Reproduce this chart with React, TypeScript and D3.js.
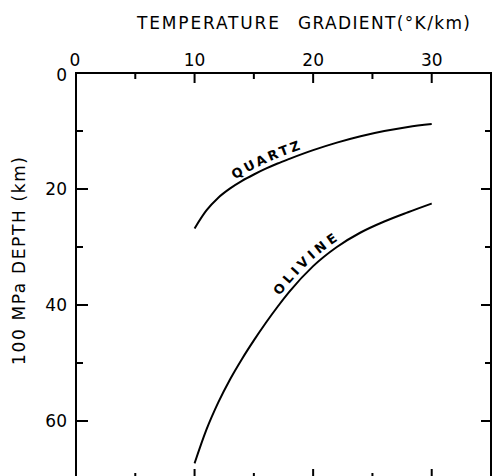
import React, { useEffect, useRef } from "react";
import * as d3 from "d3";

// temperature gradient (°K/km) sampled along both curves
const gradients = [10, 11, 12, 13, 14, 15, 16, 17, 18, 20, 22, 24, 26, 28, 30];
// depth (km) of the 100 MPa stress level
const quartzDepth = [26.8, 23.7, 21.5, 19.9, 18.6, 17.5, 16.5, 15.6, 14.8, 13.3, 12.0, 10.9, 10.0, 9.3, 8.8];
const olivineDepth = [67.3, 61.5, 56.8, 52.8, 49.3, 46.1, 43.1, 40.3, 37.7, 33.3, 30.0, 27.5, 25.6, 24.0, 22.5];

const xTickLabels = [0, 10, 20, 30];
const xMinorTicks = [5, 15, 25];
const yTickLabels = [0, 20, 40, 60];
const yMinorTicks = [10, 30, 50];

const FONT = "'DejaVu Sans', sans-serif";

type Pt = [number, number];

const App: React.FC = () => {
  const ref = useRef<SVGSVGElement>(null);

  useEffect(() => {
    if (!ref.current) return;
    const svg = d3.select(ref.current);
    svg.selectAll("*").remove();

    const x = d3.scaleLinear().domain([0, 35]).range([76, 491]);
    const y = d3.scaleLinear().domain([0, 70]).range([73, 479]);

    const g = svg.append("g");

    // frame
    g.append("rect")
      .attr("x", x(0))
      .attr("y", y(0))
      .attr("width", x(35) - x(0))
      .attr("height", y(70) - y(0))
      .attr("fill", "none")
      .attr("stroke", "#000")
      .attr("stroke-width", 2);

    const tick = (x1: number, y1: number, x2: number, y2: number) =>
      g.append("line")
        .attr("x1", x1).attr("y1", y1).attr("x2", x2).attr("y2", y2)
        .attr("stroke", "#000").attr("stroke-width", 2);

    // x ticks top + bottom, pointing inward
    xTickLabels.filter(v => v > 0).forEach(v => {
      tick(x(v), y(0), x(v), y(0) + 10);
      tick(x(v), y(70), x(v), y(70) - 10);
    });
    xMinorTicks.forEach(v => {
      tick(x(v), y(0), x(v), y(0) + 6);
      tick(x(v), y(70), x(v), y(70) - 6);
    });

    // y ticks left + right
    yTickLabels.filter(v => v > 0).forEach(v => {
      tick(x(0), y(v), x(0) + 12, y(v));
      tick(x(35), y(v), x(35) - 10, y(v));
    });
    yMinorTicks.forEach(v => {
      tick(x(0), y(v), x(0) + 7, y(v));
      tick(x(35), y(v), x(35) - 6, y(v));
    });

    // tick labels
    g.selectAll("text.xlab")
      .data(xTickLabels)
      .enter()
      .append("text")
      .attr("class", "xlab")
      .attr("x", (d: number) => (d === 0 ? x(d) - 1 : x(d)))
      .attr("y", 66)
      .attr("text-anchor", "middle")
      .style("font-family", FONT)
      .style("font-size", "17px")
      .text((d: number) => String(d));

    g.selectAll("text.ylab")
      .data(yTickLabels)
      .enter()
      .append("text")
      .attr("class", "ylab")
      .attr("x", 67)
      .attr("y", (d: number) => (d === 0 ? y(d) + 8 : y(d) + 6))
      .attr("text-anchor", "end")
      .style("font-family", FONT)
      .style("font-size", "17px")
      .text((d: number) => String(d));

    // axis titles
    g.append("text")
      .attr("x", 137)
      .attr("y", 29)
      .attr("textLength", 142)
      .attr("lengthAdjust", "spacing")
      .style("font-family", FONT)
      .style("font-size", "17px")
      .text("TEMPERATURE");

    g.append("text")
      .attr("x", 298)
      .attr("y", 29)
      .attr("textLength", 172)
      .attr("lengthAdjust", "spacing")
      .style("font-family", FONT)
      .style("font-size", "17px")
      .text("GRADIENT(°K/km)");

    g.append("text")
      .attr("transform", "translate(25,261) rotate(-90)")
      .attr("text-anchor", "middle")
      .attr("textLength", 208)
      .attr("lengthAdjust", "spacing")
      .style("font-family", FONT)
      .style("font-size", "17px")
      .text("100 MPa DEPTH (km)");

    const line = d3.line<Pt>()
      .x((d: Pt) => x(d[0]))
      .y((d: Pt) => y(d[1]))
      .curve(d3.curveMonotoneX);

    const curves = [
      { id: "quartz", name: "QUARTZ", depth: quartzDepth, labelX: 237, labelLen: 72 },
      { id: "olivine", name: "OLIVINE", depth: olivineDepth, labelX: 283, labelLen: 80 },
    ];

    curves.forEach(c => {
      const pts: Pt[] = gradients.map((gr, i) => [gr, c.depth[i]]);
      const path = g.append("path")
        .attr("id", `curve-${c.id}`)
        .attr("d", line(pts) as string)
        .attr("fill", "none")
        .attr("stroke", "#000")
        .attr("stroke-width", 2);

      // find arc length where the curve reaches the label start
      const node = path.node() as SVGPathElement;
      const total = node.getTotalLength();
      let offset = 0;
      for (let l = 0; l <= total; l += 0.5) {
        if (node.getPointAtLength(l).x >= c.labelX) { offset = l; break; }
      }

      g.append("text")
        .attr("dy", -5)
        .style("font-family", FONT)
        .style("font-size", "13px")
        .style("font-weight", "bold")
        .append("textPath")
        .attr("href", `#curve-${c.id}`)
        .attr("startOffset", offset)
        .attr("textLength", c.labelLen)
        .attr("lengthAdjust", "spacing")
        .text(c.name);
    });
  }, []);

  return (
    <div style={{ position: "absolute", left: 0, top: 0 }}>
      <svg ref={ref} width={492} height={476} style={{ display: "block", background: "#fff" }} />
    </div>
  );
};

export default App;
